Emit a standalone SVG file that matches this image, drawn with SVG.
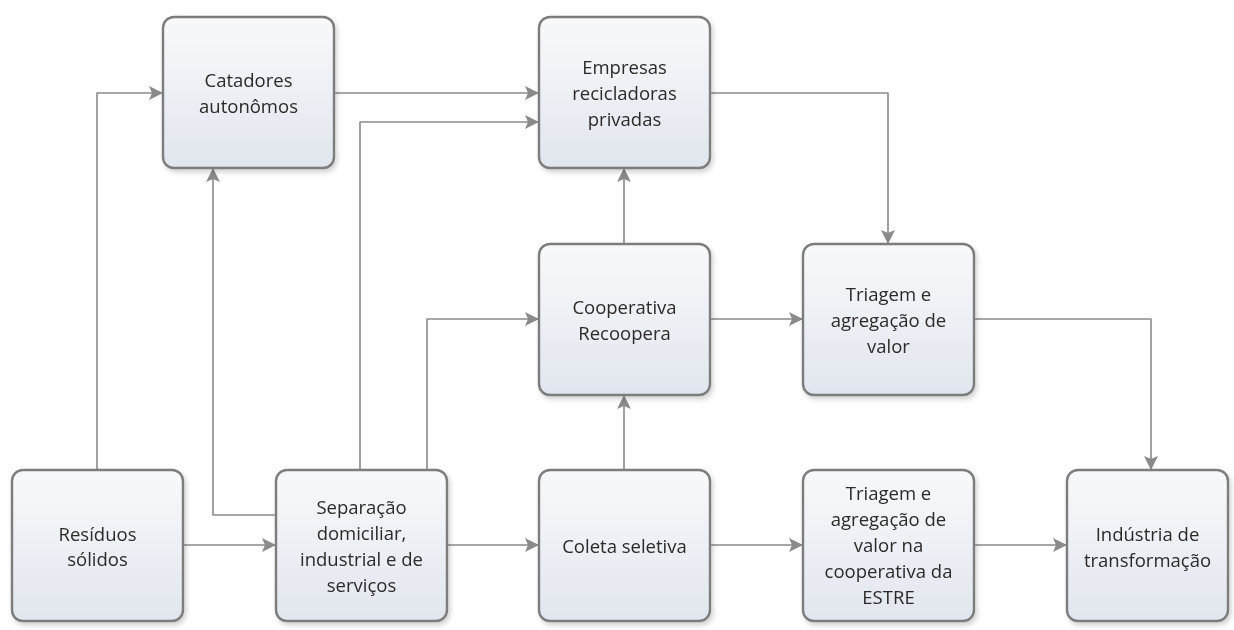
<svg xmlns="http://www.w3.org/2000/svg" width="1234" height="630" viewBox="0 0 1234 630">
<style>
.box{fill:url(#g);stroke:#7d7d7d;stroke-width:2.4}
.t{font-family:"Open Sans","Noto Sans",sans-serif;font-size:18.5px;fill:#2a2a2a;text-anchor:middle;dominant-baseline:central}
.c{fill:none;stroke:#8a8a8a;stroke-width:1.6;stroke-linejoin:round;marker-end:url(#a)}
</style>
<defs>
<linearGradient id="g" x1="0" y1="0" x2="0" y2="1">
<stop offset="0" stop-color="#f8f9fb"/>
<stop offset="1" stop-color="#e1e6ee"/>
</linearGradient>
<filter id="s" x="-10%" y="-10%" width="125%" height="125%">
<feDropShadow dx="2" dy="3" stdDeviation="2.5" flood-color="#000" flood-opacity="0.18"/>
</filter>
<marker id="a" markerWidth="14" markerHeight="14" viewBox="0 0 14 14" refX="13" refY="7" orient="auto" markerUnits="userSpaceOnUse">
<path d="M0,0 L14,7 L0,14 L3,7 Z" fill="#8a8a8a"/>
</marker>
</defs>
<rect width="1234" height="630" fill="#fff"/>
<g id="connectors">
<path class="c" d="M97,470 V93 H162"/>
<path class="c" d="M183,545 H275"/>
<path class="c" d="M276,515 H213 V169"/>
<path class="c" d="M360,470 V122 H538"/>
<path class="c" d="M427,470 V319 H538"/>
<path class="c" d="M334,93 H538"/>
<path class="c" d="M447,545 H538"/>
<path class="c" d="M624,470 V396"/>
<path class="c" d="M624,244 V169"/>
<path class="c" d="M710,319 H802"/>
<path class="c" d="M710,93 H888 V243"/>
<path class="c" d="M974,319 H1151 V469"/>
<path class="c" d="M710,545 H802"/>
<path class="c" d="M974,545 H1066"/>
</g>
<g id="residuos" filter="url(#s)"><rect class="box" x="12" y="470" width="171" height="151" rx="11"/>
<text class="t" x="97.5" y="533">Resíduos</text><text class="t" x="97.5" y="558">sólidos</text></g>
<g id="catadores" filter="url(#s)"><rect class="box" x="163" y="17" width="171" height="151" rx="11"/>
<text class="t" x="248.5" y="79">Catadores</text><text class="t" x="248.5" y="105">autonômos</text></g>
<g id="empresas" filter="url(#s)"><rect class="box" x="539" y="17" width="171" height="151" rx="11"/>
<text class="t" x="624.5" y="66">Empresas</text><text class="t" x="624.5" y="92">recicladoras</text><text class="t" x="624.5" y="118">privadas</text></g>
<g id="cooperativa" filter="url(#s)"><rect class="box" x="539" y="244" width="171" height="151" rx="11"/>
<text class="t" x="624.5" y="306">Cooperativa</text><text class="t" x="624.5" y="332">Recoopera</text></g>
<g id="triagem" filter="url(#s)"><rect class="box" x="803" y="244" width="171" height="151" rx="11"/>
<text class="t" x="888.5" y="293">Triagem e</text><text class="t" x="888.5" y="319">agregação de</text><text class="t" x="888.5" y="345">valor</text></g>
<g id="separacao" filter="url(#s)"><rect class="box" x="276" y="470" width="171" height="151" rx="11"/>
<text class="t" x="361.5" y="506">Separação</text><text class="t" x="361.5" y="532">domiciliar,</text><text class="t" x="361.5" y="558">industrial e de</text><text class="t" x="361.5" y="584">serviços</text></g>
<g id="coleta" filter="url(#s)"><rect class="box" x="539" y="470" width="171" height="151" rx="11"/>
<text class="t" x="624.5" y="545">Coleta seletiva</text></g>
<g id="estre" filter="url(#s)"><rect class="box" x="803" y="470" width="171" height="151" rx="11"/>
<text class="t" x="888.5" y="492">Triagem e</text><text class="t" x="888.5" y="518">agregação de</text><text class="t" x="888.5" y="544">valor na</text><text class="t" x="888.5" y="570">cooperativa da</text><text class="t" x="888.5" y="596">ESTRE</text></g>
<g id="industria" filter="url(#s)"><rect class="box" x="1067" y="470" width="161" height="151" rx="11"/>
<text class="t" x="1147.5" y="533">Indústria de</text><text class="t" x="1147.5" y="559">transformação</text></g>
</svg>
